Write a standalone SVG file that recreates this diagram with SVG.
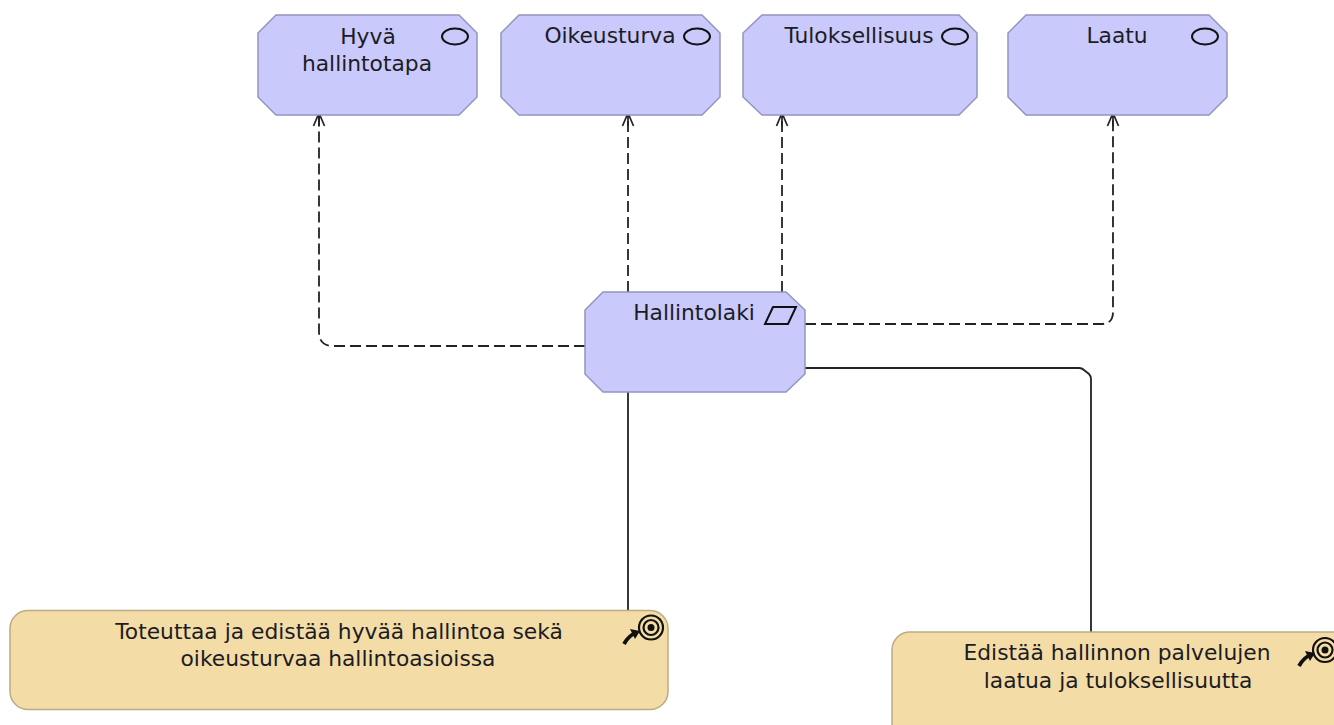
<svg xmlns="http://www.w3.org/2000/svg" width="1334" height="725" viewBox="0 0 1334 725">
<style>
.v{fill:#c9c9fc;stroke:#9494bd;stroke-width:1.5}
.g{fill:#f4dca6;stroke:#bcab84;stroke-width:1.5}
text{font-family:"DejaVu Sans",sans-serif;font-size:21.8px;fill:#1c1c24;text-anchor:middle}
.i{fill:none;stroke:#111;stroke-width:2}
.c{fill:none;stroke:#222;stroke-width:1.8}
.d{stroke-dasharray:11 5}
</style>
<defs><marker id="a" markerUnits="userSpaceOnUse" markerWidth="16" markerHeight="16" refX="14" refY="7" orient="auto"><path d="M1 1.500 L14 7 L1 12.500 M14 7 L1 7" fill="none" stroke="#222" stroke-width="1.7"/></marker></defs>
<g id="connectors">
<path class="c d" d="M585 346H333Q319 346 319 332V113" marker-end="url(#a)"/>
<path class="c d" d="M628 292V113" marker-end="url(#a)"/>
<path class="c d" d="M782 292V113" marker-end="url(#a)"/>
<path class="c d" d="M805 324H1101Q1113 324 1113 312V113" marker-end="url(#a)"/>
<path class="c" d="M628 392V610"/>
<path class="c" d="M805 368H1079Q1082 368 1084 370L1089 374Q1091 376 1091 379V632"/>
</g>
<g id="n1"><path class="v" d="M276 15H459L477 33V97L459 115H276L258 97V33Z"/><text x="368" y="44">Hyvä</text><text x="367" y="71">hallintotapa</text><ellipse class="i" cx="455" cy="36.500" rx="13" ry="8"/></g>
<g id="n2"><path class="v" d="M519 15H702L720 33V97L702 115H519L501 97V33Z"/><text x="610" y="43">Oikeusturva</text><ellipse class="i" cx="697" cy="36.500" rx="13" ry="8"/></g>
<g id="n3"><path class="v" d="M762 15H959L977 33V97L959 115H762L743 97V33Z"/><text x="859" y="43">Tuloksellisuus</text><ellipse class="i" cx="955" cy="36.500" rx="13" ry="8"/></g>
<g id="n4"><path class="v" d="M1026 15H1209L1227 33V97L1209 115H1026L1008 97V33Z"/><text x="1117" y="43">Laatu</text><ellipse class="i" cx="1205" cy="36.500" rx="13" ry="8"/></g>
<g id="n5"><path class="v" d="M603 292H786L805 310V374L786 392H603L585 374V310Z"/><text x="694" y="320">Hallintolaki</text><path class="i" d="M773 307H796L788 324H765Z"/></g>
<g id="n6"><rect class="g" x="10" y="610.500" width="658" height="99" rx="18"/><text x="339" y="639">Toteuttaa ja edistää hyvää hallintoa sekä</text><text x="338" y="666">oikeusturvaa hallintoasioissa</text>
<circle fill="none" stroke="#111" stroke-width="2.200" cx="651" cy="627.500" r="12"/><circle fill="none" stroke="#111" stroke-width="2.200" cx="651" cy="627.500" r="7.500"/><circle cx="651" cy="627.500" r="3.500" fill="#111"/><path d="M624 644Q629 635 636 633" fill="none" stroke="#111" stroke-width="3.800"/><path d="M640 631L630 629L635 639Z" fill="#111"/></g>
<g id="n7"><rect class="g" x="892" y="632" width="460" height="110" rx="18"/><text x="1117" y="660">Edistää hallinnon palvelujen</text><text x="1118" y="688">laatua ja tuloksellisuutta</text>
<circle fill="none" stroke="#111" stroke-width="2.200" cx="1325" cy="650" r="12"/><circle fill="none" stroke="#111" stroke-width="2.200" cx="1325" cy="650" r="7.500"/><circle cx="1325" cy="650" r="3.500" fill="#111"/><path d="M1299 666Q1304 657 1311 655" fill="none" stroke="#111" stroke-width="3.800"/><path d="M1315 653L1305 651L1310 661Z" fill="#111"/></g>
</svg>
